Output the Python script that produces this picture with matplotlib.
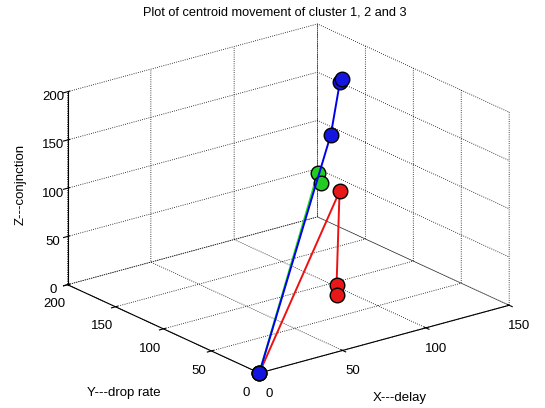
import matplotlib.pyplot as plt

plt.rcParams['font.family'] = ['Liberation Sans', 'DejaVu Sans']
plt.rcParams['grid.color'] = 'k'
plt.rcParams['grid.linestyle'] = ':'
plt.rcParams['grid.linewidth'] = 0.6

# centroid positions per iteration (x = delay, y = drop rate, z = conjnction)
red_x = [0, 82.7, 80.9, 80.9]
red_y = [0, 60, 60, 60]
red_z = [0, 122, 25.6, 15.2]

green_x = [0, 75.3, 77.1]
green_y = [0, 70, 70]
green_z = [0, 139.6, 128.4]

blue_x = [0, 112, 117.5, 118.7]
blue_y = [0, 120, 120, 120]
blue_z = [0, 139.7, 192, 194.6]

x_ticks = [0, 50, 100, 150]
y_ticks = [0, 50, 100, 150, 200]
z_ticks = [0, 50, 100, 150, 200]

fig = plt.figure(figsize=(5.45, 4.08), dpi=100)
ax = fig.add_axes([0.019, 0, 1, 1], projection='3d', proj_type='ortho')
ax.computed_zorder = False

ax.plot(red_x, red_y, red_z, '-o', color='#ee1111', lw=1.4,
        markersize=10.5, markerfacecolor='#e81818', markeredgecolor='k')
ax.plot(green_x, green_y, green_z, '-o', color='#22dd22', lw=1.4,
        markersize=10.5, markerfacecolor='#22cc22', markeredgecolor='k')
ax.plot(blue_x, blue_y, blue_z, '-o', color='#0000ee', lw=1.4,
        markersize=10.5, markerfacecolor='#1515e0', markeredgecolor='k')

ax.set_xlim(0, 150)
ax.set_ylim(0, 200)
ax.set_zlim(0, 200)
ax.set_xticks(x_ticks)
ax.set_yticks(y_ticks)
ax.set_zticks(z_ticks)

ax.view_init(elev=20.7, azim=-127.5)
ax.set_box_aspect((1, 1, 0.655), zoom=1.168)

for axis in (ax.xaxis, ax.yaxis, ax.zaxis):
    axis.set_pane_color((1, 1, 1, 0))
    axis.pane.set_edgecolor('none')
    axis.line.set_color('k')
    axis.line.set_linewidth(0.8)
    axis.set_tick_params(labelsize=9.5, colors='k', pad=0)
ax.zaxis.set_tick_params(pad=-3)

fig.text(0.505, 0.97, 'Plot of centroid movement of cluster 1, 2 and 3',
         fontsize=9.2, ha='center', va='center')
fig.text(0.683, 0.0245, 'X---delay', fontsize=9.5, va='center')
fig.text(0.16, 0.037, 'Y---drop rate', fontsize=9.5, va='center')
fig.text(0.0385, 0.547, 'Z---conjnction', fontsize=9.5, rotation=90,
         ha='center', va='center')

fig.savefig('out.png', dpi=100)
